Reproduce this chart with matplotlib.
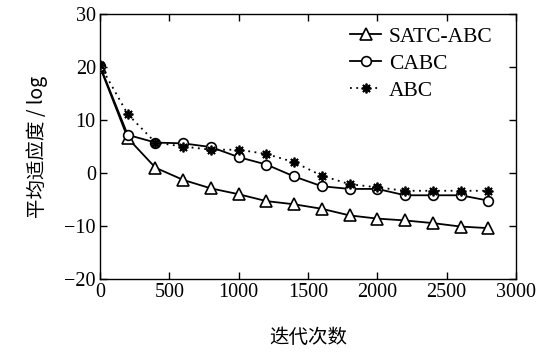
import matplotlib
matplotlib.use("Agg")
import matplotlib.pyplot as plt

iters = [0, 200, 400, 600, 800, 1000, 1200, 1400, 1600, 1800, 2000, 2200, 2400, 2600, 2800]
satc_abc = [20.0, 6.6, 1.0, -1.3, -2.9, -4.0, -5.3, -5.9, -6.75, -8.0, -8.6, -8.95, -9.45, -10.1, -10.4]
cabc = [20.2, 7.2, 5.75, 5.6, 4.9, 3.0, 1.6, -0.65, -2.5, -3.0, -3.0, -4.2, -4.2, -4.2, -5.2]
abc = [20.4, 11.1, 5.75, 5.0, 4.4, 4.4, 3.6, 2.05, -0.5, -2.1, -2.7, -3.35, -3.35, -3.35, -3.35]
xticks = [0, 500, 1000, 1500, 2000, 2500, 3000]
yticks = [-20, -10, 0, 10, 20, 30]

plt.rcParams['font.family'] = ['Liberation Serif', 'Noto Sans CJK SC']
plt.rcParams['mathtext.fontset'] = 'stix'

fig = plt.figure(figsize=(5.48, 3.52), dpi=100)
ax = fig.add_axes([0.1825, 0.2074, 0.7591, 0.7526])

ax.plot(iters, satc_abc, color='black', lw=1.3, marker='^', ms=8, mfc='white', mec='black', mew=1.2, label='SATC-ABC', zorder=3)
ax.plot(iters, cabc, color='black', lw=1.3, marker='o', ms=7, mfc='white', mec='black', mew=1.2, label='CABC', zorder=3)
ax.plot(iters, abc, color='black', lw=1.3, ls=(0, (1, 2.5)), marker=(8, 2, 0), ms=7, mec='black', mew=1.3, label='ABC', zorder=3)

ax.set_xlim(0, 3000)
ax.set_ylim(-20, 30)
ax.set_xticks(xticks)
ax.set_yticks(yticks)
ax.set_yticklabels(['\u221220', '\u221210', '0', '10', '20', '30'])
ax.tick_params(direction='in', top=True, right=True, labelsize=14.5, length=5, width=1, pad=3)
for s in ax.spines.values():
    s.set_linewidth(1.0)

ax.set_xlabel('迭代次数', family=['Noto Sans CJK SC'], fontsize=14, labelpad=18)
ax.set_ylabel('平均适应度 / log', family=['Noto Sans CJK SC', 'Liberation Serif'], fontsize=14, labelpad=12)

leg = ax.legend(loc='upper right', frameon=False, fontsize=15.5, handlelength=1.45, handletextpad=0.35,
                labelspacing=0.33, borderaxespad=0.3, bbox_to_anchor=(0.98, 1.01))

fig.savefig('out.png', dpi=100)
